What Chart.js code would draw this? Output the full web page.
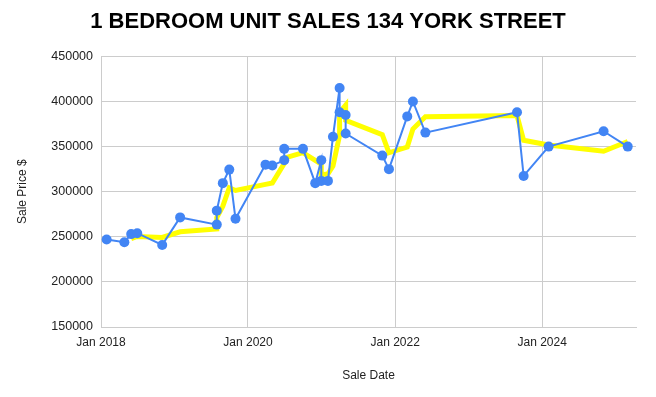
<!DOCTYPE html>
<html>
<head>
<meta charset="utf-8">
<title>1 Bedroom Unit Sales 134 York Street</title>
<script src="https://cdn.jsdelivr.net/npm/chart.js@4.4.1/dist/chart.umd.min.js"></script>
<style>
  html, body { margin: 0; padding: 0; background: #fff; }
  #wrap { width: 656px; height: 397px; }
</style>
</head>
<body>
<div id="wrap"><canvas id="chartSales"></canvas></div>
<script>
// Dati (date di vendita e prezzi)
const saleDates = [
    '2018-01-29', '2018-04-27', '2018-05-31', '2018-06-30', '2018-11-01',
    '2019-01-29', '2019-07-30', '2019-07-30', '2019-08-29', '2019-09-30',
    '2019-10-31', '2020-03-28', '2020-05-01', '2020-06-29', '2020-06-29',
    '2020-09-30', '2020-11-30', '2020-12-30', '2020-12-30', '2021-02-01',
    '2021-02-26', '2021-03-31', '2021-03-31', '2021-04-30', '2021-04-30',
    '2021-10-29', '2021-12-01', '2022-03-02', '2022-03-30', '2022-05-31',
    '2023-08-29', '2023-10-01', '2024-02-02', '2024-11-01', '2025-03-01'
];

const salePrices = [
    247000, 244000, 253000, 254000, 241000,
    271500, 263500, 279000, 309500, 324500,
    270000, 330000, 329000, 335000, 347500,
    347500, 309500, 335000, 312000, 312000,
    361000, 415000, 388000, 385000, 364500,
    340000, 325000, 383500, 400000, 365500,
    388000, 317500, 350000, 367000, 350000
];

// Linea di tendenza gialla (media mobile), parte dal terzo punto
const trendPrices = [
    null, null, 248000, 250333, 249333,
    255500, 258667, 271333, 284000, 304333,
    301333, 308167, 309667, 331333, 337167,
    343333, 334833, 330667, 318833, 319667,
    328333, 362667, 388000, 396000, 379167,
    363167, 343167, 349500, 369500, 383000,
    384500, 357000, 351833, 344833, 355667
];

const tickYears = [2018, 2020, 2022, 2024];
const yTicks = [150000, 200000, 250000, 300000, 350000, 400000, 450000];

const FONT = "'Liberation Sans', Arial, sans-serif";

function toTime(s) {
    const p = s.split('-').map(Number);
    return Date.UTC(p[0], p[1] - 1, p[2]);
}

const salesPoints = saleDates.map((d, i) => ({ x: toTime(d), y: salePrices[i] }));
const trendPoints = saleDates
    .map((d, i) => ({ x: toTime(d), y: trendPrices[i] }))
    .filter(p => p.y !== null);

const ctx = document.getElementById('chartSales').getContext('2d');

new Chart(ctx, {
    type: 'line',
    data: {
        datasets: [
            {
                label: 'Sale Price $',
                data: salesPoints,
                borderColor: '#4285f4',
                backgroundColor: '#4285f4',
                borderWidth: 2,
                pointRadius: 5,
                pointHoverRadius: 5,
                pointBorderWidth: 0,
                tension: 0,
                order: 0
            },
            {
                label: 'Trend',
                data: trendPoints,
                borderColor: '#ffff00',
                borderWidth: 5,
                pointRadius: 0,
                tension: 0,
                order: 1
            }
        ]
    },
    options: {
        responsive: true,
        maintainAspectRatio: false,
        animation: false,
        layout: {
            padding: { left: 0, right: 0, top: 0, bottom: 0 }
        },
        plugins: {
            legend: { display: false },
            tooltip: { enabled: false },
            title: {
                display: true,
                text: '1 BEDROOM UNIT SALES 134 YORK STREET',
                color: '#000',
                font: { family: FONT, size: 22, weight: 'bold' },
                padding: { top: 9, bottom: 21 }
            }
        },
        scales: {
            x: {
                type: 'linear',
                min: Date.UTC(2018, 0, 1),
                max: Date.UTC(2025, 3, 11),
                afterBuildTicks: (scale) => {
                    scale.ticks = tickYears.map(y => ({ value: Date.UTC(y, 0, 1) }));
                },
                afterFit: (scale) => { scale.height = 70; },
                grid: { color: '#cccccc', drawTicks: false },
                border: { color: '#cccccc' },
                ticks: {
                    color: '#222',
                    padding: 8,
                    maxRotation: 0,
                    font: { family: FONT, size: 12 },
                    callback: (value) => 'Jan ' + new Date(value).getUTCFullYear()
                },
                title: {
                    display: true,
                    text: 'Sale Date',
                    color: '#222',
                    font: { family: FONT, size: 12 },
                    padding: { top: 0, bottom: 14 }
                }
            },
            y: {
                min: 150000,
                max: 450000,
                afterBuildTicks: (scale) => {
                    scale.ticks = yTicks.map(v => ({ value: v }));
                },
                afterFit: (scale) => { scale.width = 101; },
                grid: { color: '#cccccc', drawTicks: false },
                border: { color: '#cccccc' },
                ticks: {
                    color: '#222',
                    padding: 8,
                    font: { family: FONT, size: 12.5 },
                    callback: (value) => String(value)
                },
                title: {
                    display: true,
                    text: 'Sale Price $',
                    color: '#222',
                    font: { family: FONT, size: 12 },
                    padding: { top: 15, bottom: 0 }
                }
            },
            // asse vuoto a destra: lascia il margine destro senza spostare il titolo
            spacer: {
                position: 'right',
                display: true,
                afterFit: (scale) => { scale.width = 20; },
                grid: { display: false, drawTicks: false },
                border: { display: false },
                ticks: { display: false }
            }
        }
    }
});
</script>
</body>
</html>
